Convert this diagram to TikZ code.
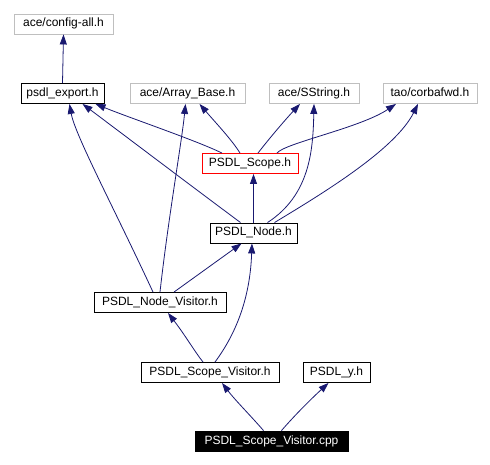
\documentclass[tikz,border=0pt]{standalone}
\usepackage{fontspec}
\setmainfont{Liberation Sans}
\usetikzlibrary{arrows.meta}
\definecolor{edgeblue}{RGB}{25,25,112}
\definecolor{extgray}{RGB}{191,191,191}
\tikzset{
  box/.style={draw=black, line width=0.9pt, rectangle, inner sep=0pt, minimum height=20pt,
    font=\fontsize{12}{14}\selectfont, text height=9pt, text depth=3pt, align=center},
  extbox/.style={box, draw=extgray},
  redbox/.style={box, draw=red},
  blackbox/.style={box, fill=black, text=white},
  dep/.style={draw=edgeblue, line width=0.8pt, -{Triangle[length=10pt,width=7pt]}}
}
\begin{document}
\begin{tikzpicture}[x=1pt,y=-1pt]
\useasboundingbox (0,0) rectangle (490,465);
\node[extbox, minimum width=99pt] (config) at (63.5,24) {ace/config-all.h};
\node[box, minimum width=83pt] (export) at (62.5,93.5) {psdl\_export.h};
\node[extbox, minimum width=115pt] (array) at (187.5,93.5) {ace/Array\_Base.h};
\node[extbox, minimum width=90pt] (sstring) at (314,93.5) {ace/SString.h};
\node[extbox, minimum width=94pt] (corba) at (430,93.5) {tao/corbafwd.h};
\node[redbox, minimum width=96pt] (scope) at (250,163.5) {PSDL\_Scope.h};
\node[box, minimum width=87pt] (node) at (253.5,233) {PSDL\_Node.h};
\node[box, minimum width=132pt] (nvis) at (160,302.5) {PSDL\_Node\_Visitor.h};
\node[box, minimum width=138pt] (svis) at (210,372.5) {PSDL\_Scope\_Visitor.h};
\node[box, minimum width=67pt] (psdly) at (336.5,372.5) {PSDL\_y.h};
\node[blackbox, minimum width=153pt] (cpp) at (271.5,441) {PSDL\_Scope\_Visitor.cpp};

\draw[dep] (export.north) -- (config.south);
% PSDL_Scope.h
\draw[dep] ([xshift=-28pt]scope.north) .. controls (195,140) and (130,118) .. ([xshift=33pt]export.south);
\draw[dep] ([xshift=-10pt]scope.north) .. controls (232,140) and (215,122) .. ([xshift=12pt]array.south);
\draw[dep] ([xshift=8pt]scope.north) .. controls (268,140) and (285,120) .. ([xshift=-14pt]sstring.south);
\draw[dep] ([xshift=27pt]scope.north) .. controls (285,143) and (360,128) .. ([xshift=-34pt]corba.south);
% PSDL_Node.h
\draw[dep] ([xshift=-13pt]node.north) .. controls (190,185) and (120,132) .. ([xshift=20pt]export.south);
\draw[dep] (node.north) -- (node.north |- scope.south);
\draw[dep] ([xshift=14pt]node.north) .. controls (310,195) and (313,150) .. (sstring.south);
\draw[dep] ([xshift=21pt]node.north) .. controls (320,195) and (395,150) .. ([xshift=-12pt]corba.south);
% PSDL_Node_Visitor.h
\draw[dep] ([xshift=-7pt]nvis.north) .. controls (115,210) and (75,135) .. ([xshift=7pt]export.south);
\draw[dep] (nvis.north) .. controls (168,220) and (182,140) .. ([xshift=-2pt]array.south);
\draw[dep] ([xshift=14pt]nvis.north) -- ([xshift=-12pt]node.south);
% PSDL_Scope_Visitor.h
\draw[dep] ([xshift=-7pt]svis.north) .. controls (195,352) and (185,335) .. ([xshift=8pt]nvis.south);
\draw[dep] ([xshift=5pt]svis.north) .. controls (235,335) and (250,300) .. ([xshift=-1.5pt]node.south);
% cpp
\draw[dep] ([xshift=-8pt]cpp.north) .. controls (250,415) and (235,400) .. ([xshift=12pt]svis.south);
\draw[dep] ([xshift=10pt]cpp.north) .. controls (295,415) and (310,400) .. ([xshift=-8pt]psdly.south);
\end{tikzpicture}
\end{document}
